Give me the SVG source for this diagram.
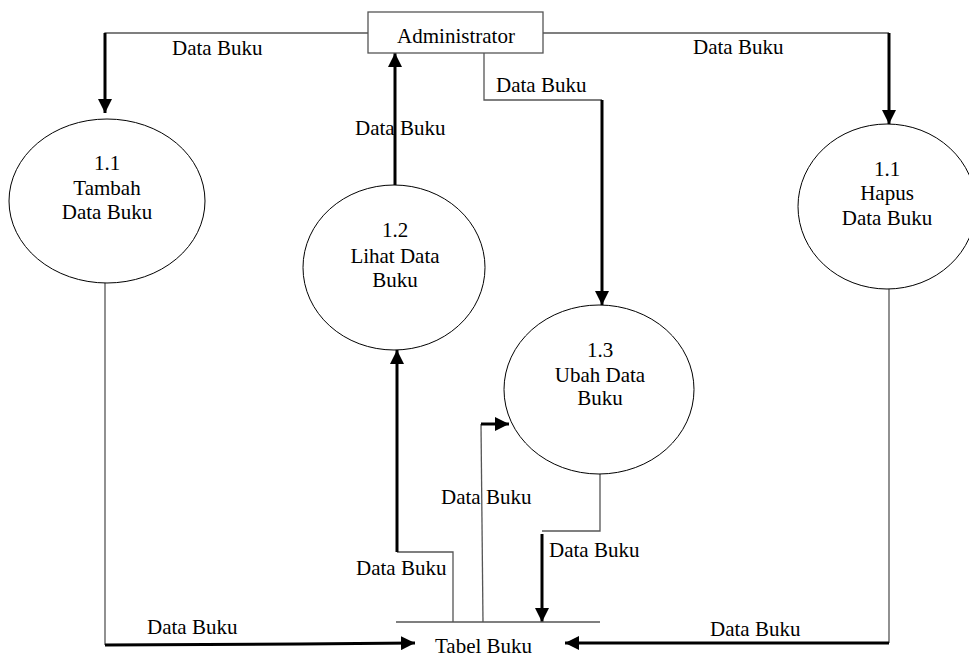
<svg xmlns="http://www.w3.org/2000/svg" width="969" height="666" viewBox="0 0 969 666">
  <defs>
    <marker id="arrow" viewBox="0 0 10 10" refX="10" refY="5" markerWidth="14" markerHeight="14" markerUnits="userSpaceOnUse" orient="auto">
      <path d="M0,0 L10,5 L0,10 Z" fill="#000"/>
    </marker>
    <style>
      text { font-family: 'Liberation Serif', 'DejaVu Serif', serif; font-size: 21px; fill: #000; }
      .mid { text-anchor: middle; }
      .bubble { fill: #fff; stroke: #000; stroke-width: 1; }
      .thin { fill: none; stroke: #555; stroke-width: 1.3; }
      .head { fill: none; stroke: #000; stroke-width: 3; marker-end: url(#arrow); }
    </style>
  </defs>
  <rect width="969" height="666" fill="#fff"/>

  <!-- data flows -->
  <g id="connectors" font-family="Liberation Serif, serif">
    <!-- Administrator -> 1.1 Tambah -->
    <polyline class="thin" points="368,33 105,33 105,40"/>
    <line class="head" x1="105" y1="33" x2="105" y2="113"/>
    <!-- Administrator -> 1.1 Hapus -->
    <polyline class="thin" points="543,33 889,33"/>
    <line class="head" x1="889" y1="33" x2="889" y2="124"/>
    <!-- 1.2 Lihat -> Administrator -->
    <line class="head" x1="395" y1="185" x2="395" y2="53"/>
    <!-- Administrator -> 1.3 Ubah -->
    <polyline class="thin" points="484,53 484,100 602,100"/>
    <line class="head" x1="602" y1="100" x2="602" y2="305"/>
    <!-- Tabel Buku -> 1.2 Lihat -->
    <polyline class="thin" points="453,622 453,552 397,552"/>
    <line class="head" x1="397" y1="552" x2="397" y2="350"/>
    <!-- Tabel Buku -> 1.3 Ubah -->
    <polyline class="thin" points="483,622 481,424"/>
    <line class="head" x1="481" y1="424" x2="509" y2="424"/>
    <!-- 1.3 Ubah -> Tabel Buku -->
    <polyline class="thin" points="600,474 600,531 542,531"/>
    <line class="head" x1="542" y1="534" x2="542" y2="622"/>
    <!-- 1.1 Tambah -> Tabel Buku -->
    <line class="thin" x1="105" y1="283" x2="105" y2="645"/>
    <polyline class="head" points="105,645 300,644 415,643"/>
    <!-- 1.1 Hapus -> Tabel Buku -->
    <line class="thin" x1="889" y1="289" x2="889" y2="643"/>
    <line class="head" x1="889" y1="643" x2="565" y2="643"/>

    <!-- flow labels -->
    <text x="172" y="55">Data Buku</text>
    <text x="693" y="54">Data Buku</text>
    <text x="496" y="92">Data Buku</text>
    <text x="355" y="135">Data Buku</text>
    <text x="441" y="504">Data Buku</text>
    <text x="549" y="557">Data Buku</text>
    <text x="356" y="575">Data Buku</text>
    <text x="147" y="634">Data Buku</text>
    <text x="710" y="636">Data Buku</text>
  </g>

  <!-- external entity -->
  <g id="administrator">
    <rect x="368" y="12" width="175" height="41" fill="#fff" stroke="#555" stroke-width="1.3"/>
    <text class="mid" x="456" y="43">Administrator</text>
  </g>

  <!-- processes -->
  <g id="p-tambah">
    <ellipse class="bubble" cx="107" cy="201" rx="98" ry="82"/>
    <text class="mid" x="107" y="170">1.1</text>
    <text class="mid" x="107" y="195">Tambah</text>
    <text class="mid" x="107" y="219">Data Buku</text>
  </g>
  <g id="p-lihat">
    <ellipse class="bubble" cx="394" cy="267.5" rx="91" ry="82.5"/>
    <text class="mid" x="395" y="237">1.2</text>
    <text class="mid" x="395" y="263">Lihat Data</text>
    <text class="mid" x="395" y="287">Buku</text>
  </g>
  <g id="p-ubah">
    <ellipse class="bubble" cx="599" cy="389.5" rx="95" ry="84.5"/>
    <text class="mid" x="600" y="357">1.3</text>
    <text class="mid" x="600" y="382">Ubah Data</text>
    <text class="mid" x="600" y="405">Buku</text>
  </g>
  <g id="p-hapus">
    <ellipse class="bubble" cx="887" cy="206.5" rx="89" ry="82.5"/>
    <text class="mid" x="887" y="176">1.1</text>
    <text class="mid" x="887" y="200">Hapus</text>
    <text class="mid" x="887" y="225">Data Buku</text>
  </g>

  <!-- data store -->
  <g id="tabel-buku">
    <line x1="396" y1="622" x2="600" y2="622" stroke="#555" stroke-width="1.3"/>
    <text x="435" y="653">Tabel Buku</text>
  </g>
</svg>
